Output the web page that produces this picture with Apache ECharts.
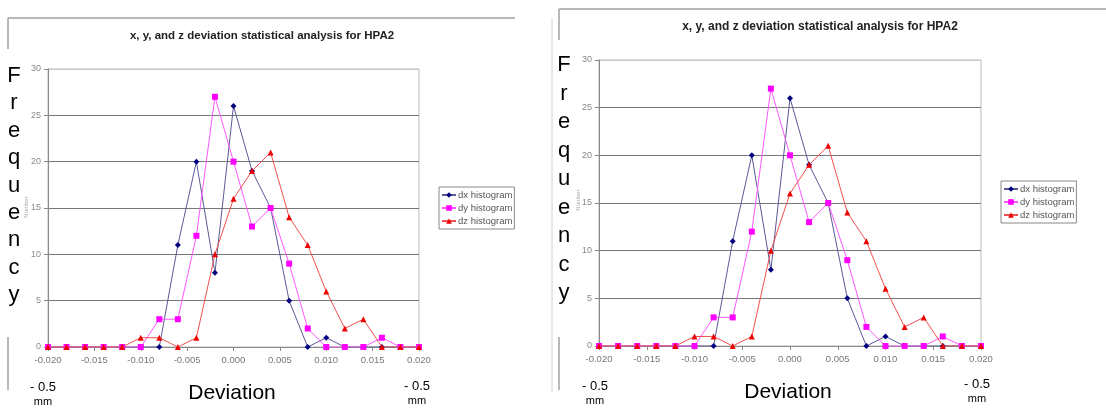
<!DOCTYPE html>
<html>
<head>
<meta charset="utf-8">
<script src="https://cdn.jsdelivr.net/npm/echarts@6/dist/echarts.min.js"></script>
<style>
html,body{margin:0;padding:0;background:#fff;}
#c{width:1106px;height:409px;}
</style>
</head>
<body>
<div id="c"></div>
<script>
const titleText = 'x, y, and z deviation statistical analysis for HPA2';
const deviations = [-0.020,-0.018,-0.016,-0.014,-0.012,-0.010,-0.008,-0.006,-0.004,-0.002,0.000,0.002,0.004,0.006,0.008,0.010,0.012,0.014,0.016,0.018,0.020];
const dxHist = [0,0,0,0,0,0,0,11,20,8,26,19,15,5,0,1,0,0,0,0,0];
const dyHist = [0,0,0,0,0,0,3,3,12,27,20,13,15,9,2,0,0,0,1,0,0];
const dzHist = [0,0,0,0,0,1,1,0,1,10,16,19,21,14,11,6,2,3,0,0,0];
const seriesNames = ['dx histogram','dy histogram','dz histogram'];
const yLetters = ['F','r','e','q','u','e','n','c','y'];
const xAxisTitle = 'Deviation';
const endLabel = ['- 0.5','mm'];

const pairs = arr => deviations.map((d,i)=>[d,arr[i]]);
const chart = echarts.init(document.getElementById('c'));

const panels = [
  {grid:{left:48,right:687,top:69,bottom:62}, legend:{left:439,top:187}, title:{x:262,y:36,size:11.5},
   frame:{x0:8,x1:515,top:18}, fx:14, fy0:76, fdy:27.4, dev:{x:232,y:393}, lm:{x:43,y:387}, rm:{x:417,y:386}, num:{x:26,y:207}},
  {grid:{left:599,right:125,top:60,bottom:63}, legend:{left:1001,top:181}, title:{x:820,y:27,size:12},
   frame:{x0:559,x1:1120,top:9}, fx:564, fy0:65, fdy:28.5, dev:{x:788,y:392}, lm:{x:595,y:386}, rm:{x:977,y:384}, num:{x:578,y:200}}
];

const grids=[], xAxes=[], yAxes=[], series=[], legends=[], graphics=[];
const styles = [
  {color:'#000080', line:'#5a5a96', symbol:'diamond', size:6, z:2},
  {color:'#ff00ff', line:'#ff55ff', symbol:'rect', size:6, z:3},
  {color:'#ee0000', line:'#f05050', symbol:'triangle', size:6, z:4}
];
const dataSets = [dxHist, dyHist, dzHist];

panels.forEach((p,pi)=>{
  grids.push(Object.assign({show:true, borderColor:'#bbbbbb', borderWidth:1, backgroundColor:'transparent'}, p.grid));
  xAxes.push({type:'value', gridIndex:pi, min:-0.02, max:0.02, interval:0.005,
    axisLine:{onZero:false, lineStyle:{color:'#888', width:1}},
    axisTick:{show:true, length:4, inside:false, lineStyle:{color:'#888'}},
    splitLine:{show:false},
    axisLabel:{color:'#777', fontSize:9.5, fontFamily:'Liberation Sans, Arial', margin:8, formatter:v=>v.toFixed(3)}});
  yAxes.push({type:'value', gridIndex:pi, min:0, max:30, interval:5,
    axisLine:{show:true, onZero:false, lineStyle:{color:'#888', width:1}},
    axisTick:{show:true, length:4, lineStyle:{color:'#888'}},
    splitLine:{show:true, lineStyle:{color:['#888','#777','#777','#777','#777','#777','#c8c8c8'], width:1.2}},
    axisLabel:{color:'#888', fontSize:9, fontFamily:'Liberation Sans, Arial', margin:7}});
  dataSets.forEach((ds,si)=>{
    const st = styles[si];
    series.push({name:seriesNames[si], type:'line', xAxisIndex:pi, yAxisIndex:pi, data:pairs(ds),
      symbol:st.symbol, symbolSize:st.size, showAllSymbol:true, animation:false,
      lineStyle:{color:st.line, width:1}, itemStyle:{color:st.color}, z:st.z});
  });
  legends.push({orient:'vertical', left:p.legend.left, top:p.legend.top, data:seriesNames,
    borderColor:'#888', borderWidth:1, padding:[3,2,3,2], itemGap:3, itemWidth:14, itemHeight:7,
    textStyle:{fontSize:9.5, color:'#555', fontFamily:'Liberation Sans, Arial', padding:[0,0,0,-3]}, selectedMode:false});
  graphics.push({type:'text', x:p.title.x, y:p.title.y, style:{text:titleText, align:'center', verticalAlign:'middle',
    font:'bold '+p.title.size+'px "Liberation Sans", Arial', fill:'#222'}});
  const fc = '#a0a0a0';
  graphics.push({type:'line', shape:{x1:p.frame.x0, y1:p.frame.top, x2:p.frame.x1, y2:p.frame.top}, style:{stroke:fc, lineWidth:1.5}});
  graphics.push({type:'line', shape:{x1:p.frame.x0, y1:p.frame.top, x2:p.frame.x0, y2:p.frame.top+31}, style:{stroke:fc, lineWidth:1.5}});
  graphics.push({type:'line', shape:{x1:p.frame.x0, y1:337, x2:p.frame.x0, y2:390}, style:{stroke:fc, lineWidth:1.5}});
  yLetters.forEach((l,li)=>{
    graphics.push({type:'text', x:p.fx, y:p.fy0+li*p.fdy, style:{text:l, align:'center', verticalAlign:'middle',
      font:'22px "Liberation Sans", Arial', fill:'#000'}});
  });
  graphics.push({type:'text', x:p.num.x, y:p.num.y, rotation:Math.PI/2, style:{text:'Number', align:'center', verticalAlign:'middle',
    font:'6px "Liberation Sans", Arial', fill:'#aaa'}});
  graphics.push({type:'text', x:p.dev.x, y:p.dev.y, style:{text:xAxisTitle, align:'center', verticalAlign:'middle',
    font:'21px "Liberation Sans", Arial', fill:'#000'}});
  [p.lm, p.rm].forEach(m=>{
    graphics.push({type:'text', x:m.x, y:m.y, style:{text:endLabel[0], align:'center', verticalAlign:'middle',
      font:'13px "Liberation Sans", Arial', fill:'#000'}});
    graphics.push({type:'text', x:m.x, y:m.y+15, style:{text:endLabel[1], align:'center', verticalAlign:'middle',
      font:'11px "Liberation Sans", Arial', fill:'#000'}});
  });
});
graphics.push({type:'line', shape:{x1:552, y1:18, x2:552, y2:392}, style:{stroke:'#d0d0d0', lineWidth:1}});

chart.setOption({
  animation:false,
  backgroundColor:'#fff',
  grid:grids, xAxis:xAxes, yAxis:yAxes, series:series, legend:legends,
  graphic:{elements:graphics}
});
</script>
</body>
</html>
